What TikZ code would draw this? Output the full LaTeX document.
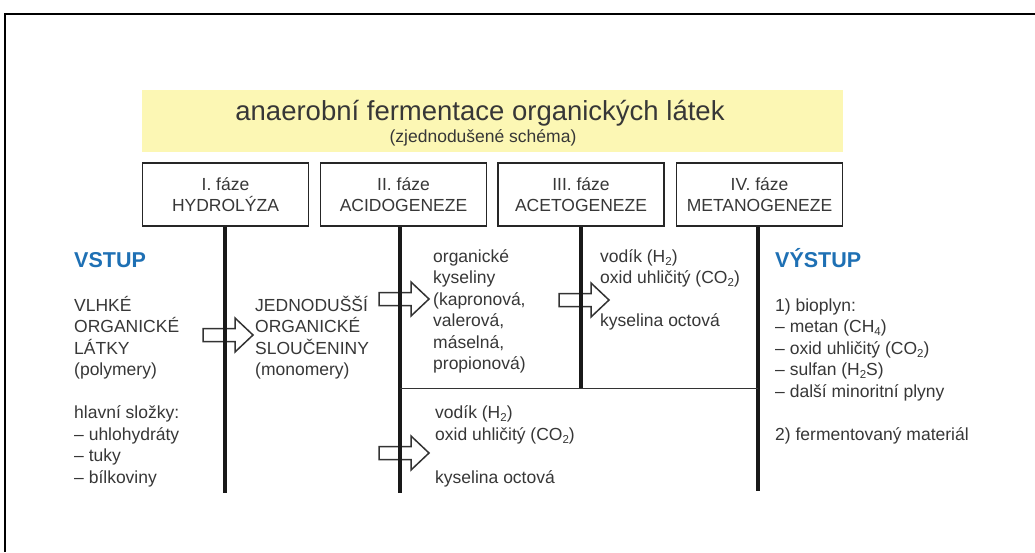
\documentclass[tikz,border=0pt]{standalone}
\usepackage{fontspec}
\setmainfont{Liberation Sans}
\definecolor{txt}{RGB}{55,55,55}
\definecolor{band}{RGB}{252,247,180}
\definecolor{vblue}{RGB}{30,112,180}
\newcommand{\lns}[1]{\begin{tabular}[t]{@{}l@{}}#1\end{tabular}}
\newcommand{\sbs}[1]{\raisebox{-0.35ex}{\fontsize{11.5}{12}\selectfont #1}}
\newcommand{\barrow}[2]{\draw[blockarrow] (#1-22,#2-6.5) -- (#1+10,#2-6.5) -- (#1+10,#2-17) -- (#1+28,#2) -- (#1+10,#2+17) -- (#1+10,#2+6.5) -- (#1-22,#2+6.5) -- cycle;}
\begin{document}
\begin{tikzpicture}[x=1pt,y=-1pt,
  body/.style={inner sep=0pt, text=txt, font=\fontsize{17.5}{21.5}\selectfont, anchor=base west},
  phasebox/.style={draw=black!85, line width=1.8pt, minimum width=166pt, minimum height=63pt, inner sep=0pt, text=txt, font=\fontsize{17.5}{21}\selectfont, align=center},
  stem/.style={line width=3.5pt, black!90},
  hline/.style={line width=1.8pt, black!80},
  blockarrow/.style={draw=black!80, line width=1.5pt, fill=white, line join=miter},
  headline/.style={inner sep=0pt, text=vblue, font=\fontsize{21.5}{24}\selectfont\bfseries, anchor=base west}]
\useasboundingbox (0,0) rectangle (1035,552);
\fill[white] (0,0) rectangle (1035,552);
\draw[line width=2pt] (5,552) -- (5,14) -- (1035,14);
% band and title
\node[fill=band, minimum width=701pt, minimum height=62pt, inner sep=0pt] (band) at (492.5,121) {};
\node[inner sep=0pt, anchor=base, font=\fontsize{27.5}{30}\selectfont, text=txt] (title) at (480,120) {anaerobní fermentace organických látek};
\node[inner sep=0pt, anchor=base, font=\fontsize{17.5}{21}\selectfont, text=txt] (sub) at (483,142) {(zjednodušené schéma)};
% phase boxes
\node[phasebox] (p1) at (225.5,194.5) {I. fáze\\HYDROLÝZA};
\node[phasebox] (p2) at (403.5,194.5) {II. fáze\\ACIDOGENEZE};
\node[phasebox] (p3) at (581,194.5) {III. fáze\\ACETOGENEZE};
\node[phasebox] (p4) at (759.5,194.5) {IV. fáze\\METANOGENEZE};
% coordinates
\coordinate (e1) at (225,493);
\coordinate (e2) at (400,493);
\coordinate (e4) at (758,491);
\coordinate (j2) at (400,388.5);
\coordinate (j4) at (758,388.5);
% arrows
\barrow{225}{335}
\barrow{401}{299}
\barrow{581}{300}
\barrow{401}{453}
% stems
\draw[stem] (p1.south -| e1) -- (e1);
\draw[stem] (p2.south -| e2) -- (e2);
\draw[stem] (p3.south) -- (p3.south |- j2);
\draw[stem] (p4.south -| e4) -- (e4);
\draw[hline] (j2) -- (j4);
% texts
\node[headline] (vin) at (74,267) {VSTUP};
\node[body] (inp) at (74,311) {\lns{VLHKÉ\\ORGANICKÉ\\LÁTKY\\(polymery)\\[21.5pt]hlavní složky:\\– uhlohydráty\\– tuky\\– bílkoviny}};
\node[body] (mono) at (255,311) {\lns{JEDNODUŠŠÍ\\ORGANICKÉ\\SLOUČENINY\\(monomery)}};
\node[body] (acids) at (433,262) {\lns{organické\\kyseliny\\(kapronová,\\valerová,\\máselná,\\propionová)}};
\node[body] (gas3) at (600,262) {\lns{vodík (H\sbs{2})\\oxid uhličitý (CO\sbs{2})\\[21.5pt]kyselina octová}};
\node[body] (gas2) at (435,418.5) {\lns{vodík (H\sbs{2})\\oxid uhličitý (CO\sbs{2})\\[21.5pt]kyselina octová}};
\node[headline] (vout) at (775,267) {VÝSTUP};
\node[body] (outp) at (775,311) {\lns{1) bioplyn:\\– metan (CH\sbs{4})\\– oxid uhličitý (CO\sbs{2})\\– sulfan (H\sbs{2}S)\\– další minoritní plyny\\[21.5pt]2) fermentovaný materiál}};
\end{tikzpicture}
\end{document}
